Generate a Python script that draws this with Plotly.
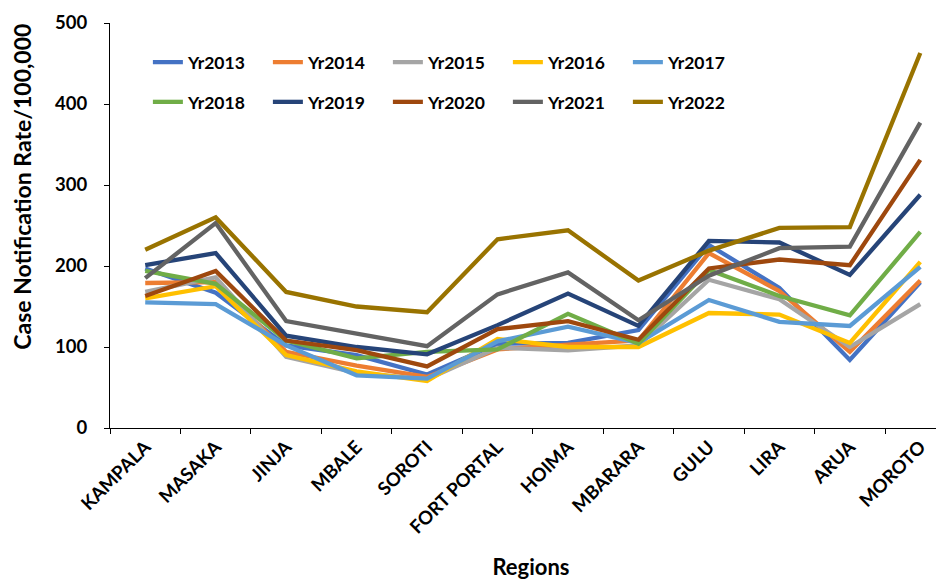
import plotly.graph_objects as go

regions = ["KAMPALA", "MASAKA", "JINJA", "MBALE", "SOROTI", "FORT PORTAL",
           "HOIMA", "MBARARA", "GULU", "LIRA", "ARUA", "MOROTO"]

yr2013 = [197, 167, 102, 90, 66, 104, 105, 121, 226, 173, 84, 180]
yr2014 = [179, 180, 94, 77, 63, 97, 103, 108, 216, 169, 94, 182]
yr2015 = [168, 186, 88, 68, 60, 99, 96, 102, 183, 159, 100, 153]
yr2016 = [160, 175, 90, 70, 58, 110, 100, 100, 142, 140, 105, 205]
yr2017 = [155, 153, 102, 65, 61, 107, 125, 105, 158, 131, 126, 199]
yr2018 = [194, 178, 108, 86, 94, 97, 141, 104, 195, 163, 139, 242]
yr2019 = [201, 216, 114, 100, 91, 127, 166, 126, 231, 229, 189, 288]
yr2020 = [163, 194, 108, 96, 76, 122, 132, 109, 197, 208, 201, 331]
yr2021 = [185, 253, 132, 116, 101, 165, 192, 133, 188, 222, 224, 377]
yr2022 = [220, 260, 168, 150, 143, 233, 244, 182, 219, 247, 248, 463]

series = [
    ("Yr2013", yr2013, "#4472C4", "legend"),
    ("Yr2014", yr2014, "#ED7D31", "legend"),
    ("Yr2015", yr2015, "#A5A5A5", "legend"),
    ("Yr2016", yr2016, "#FFC000", "legend"),
    ("Yr2017", yr2017, "#5B9BD5", "legend"),
    ("Yr2018", yr2018, "#70AD47", "legend2"),
    ("Yr2019", yr2019, "#264478", "legend2"),
    ("Yr2020", yr2020, "#9E480E", "legend2"),
    ("Yr2021", yr2021, "#636363", "legend2"),
    ("Yr2022", yr2022, "#997300", "legend2"),
]

y_title = "Case Notification Rate/100,000"
x_title = "Regions"

FONT = "Lato"

fig = go.Figure()
for name, vals, col, leg in series:
    fig.add_trace(go.Scatter(
        x=regions, y=vals, name=name, mode="lines",
        line=dict(color=col, width=4.3),
        legend=leg,
    ))

leg_common = dict(
    orientation="h", xanchor="left", yanchor="middle",
    font=dict(family=FONT, size=17.5, color="black", weight="bold"),
    bgcolor="rgba(0,0,0,0)", entrywidth=75, entrywidthmode="pixels",
    itemwidth=30, tracegroupgap=0,
)

fig.update_layout(
    width=944, height=579,
    margin=dict(l=102, r=0, t=15, b=159),
    paper_bgcolor="white", plot_bgcolor="white",
    font=dict(family=FONT, color="black"),
    showlegend=True,
    legend=dict(x=0.045, y=0.903, **leg_common),
    legend2=dict(x=0.045, y=0.805, **leg_common),
    xaxis=dict(
        type="category", range=[-0.5, 11.45], automargin=False,
        showline=True, linecolor="black", linewidth=1,
        ticks="outside", tickson="boundaries", ticklen=5, tickcolor="black",
        tickangle=-45, showgrid=False,
        tickfont=dict(family=FONT, size=18.5, color="black", weight="bold"),
        title=dict(text=x_title, font=dict(family=FONT, size=22, color="black", weight="bold"), standoff=22),
    ),
    yaxis=dict(
        range=[0, 500], tickvals=[0, 100, 200, 300, 400, 500], automargin=False,
        showline=True, linecolor="black", linewidth=1,
        ticks="outside", ticklen=5, tickcolor="black", showgrid=False, zeroline=False,
        ticklabelstandoff=13,
        tickfont=dict(family=FONT, size=18.5, color="black", weight="bold"),
    ),
    annotations=[dict(
        text=y_title, textangle=-90, showarrow=False,
        xref="paper", yref="paper", x=-0.1045, y=0.596,
        xanchor="center", yanchor="middle",
        font=dict(family=FONT, size=23, color="black", weight="bold"),
    )],
)

fig.write_html("out.html")
